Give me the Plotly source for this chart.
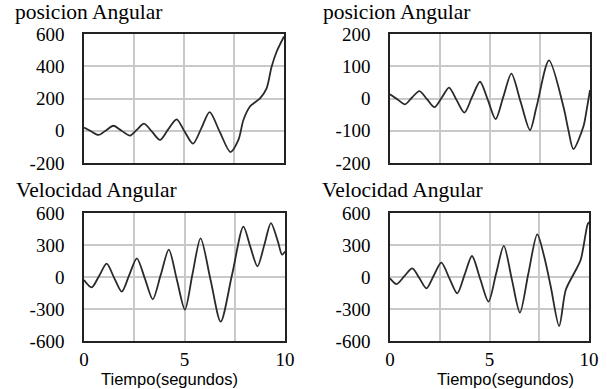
import plotly.graph_objects as go

W, H = 607, 389

# ---- data ----
t_pos1 = [0, 0.35, 0.72, 1.1, 1.47, 1.88, 2.3, 2.65, 3.0, 3.4, 3.8, 4.2, 4.63, 5.03, 5.45,
          5.87, 6.28, 6.8, 7.32, 7.72, 7.97, 8.3, 8.8, 9.13, 9.38, 9.63, 10]
pos1 = [20, -3, -26, 2, 31, 0, -30, 7, 44, -6, -57, 7, 71, -5, -80,
        16, 115, -10, -132, -57, 67, 150, 201, 263, 397, 490, 585]

t_pos2 = [0, 0.38, 0.75, 1.1, 1.47, 1.85, 2.22, 2.6, 2.95, 3.33, 3.72, 4.1, 4.5, 4.9, 5.28,
          5.67, 6.07, 6.53, 7.0, 7.33, 7.95, 8.67, 8.92, 9.17, 9.67, 9.83, 10]
pos2 = [13, -3, -18, 3, 23, -2, -27, 4, 34, -5, -44, 4, 52, -6, -64,
        6, 77, -10, -98, -25, 118, -25, -98, -157, -87, -36, 26]

t_vel1 = [0, 0.38, 0.75, 1.13, 1.5, 1.88, 2.25, 2.63, 3.03, 3.42, 3.82, 4.22, 4.62, 5.02,
          5.4, 5.8, 6.3, 6.8, 7.37, 7.93, 8.28, 8.63, 8.97, 9.3, 9.65, 9.85, 10]
vel1 = [-28, -97, 10, 125, -8, -138, 18, 175, -15, -209, 22, 256, -25, -306,
        30, 363, -30, -419, 25, 472, 280, 100, 300, 505, 330, 210, 240]

t_vel2 = [0, 0.33, 0.72, 1.12, 1.48, 1.83, 2.2, 2.58, 2.98, 3.38, 3.75, 4.12, 4.53, 4.95,
          5.33, 5.72, 6.12, 6.53, 6.95, 7.4, 7.75, 8.08, 8.5, 8.83, 9.25, 9.58, 9.92, 10]
vel2 = [-12, -66, 8, 81, -12, -106, 14, 134, -10, -153, 22, 197, -17, -231,
        30, 291, -20, -334, 30, 400, 190, -91, -460, -122, 35, 159, 487, 515]

yt_pos1 = [-200, 0, 200, 400, 600]
yt_pos2 = [-200, -100, 0, 100, 200]
yt_vel = [-600, -300, 0, 300, 600]
xt_vals = [0, 2.5, 5, 7.5, 10]
xt_text = ["0", "", "5", "", "10"]

titles = ["posicion Angular", "posicion Angular", "Velocidad Angular", "Velocidad Angular"]
xlabel = "Tiempo(segundos)"

# ---- figure ----
LINE = dict(color="#2a2a2a", width=1.8)
SERIF = "Liberation Serif, Times New Roman, serif"
SANS = "Liberation Sans, Arial, sans-serif"

fig = go.Figure()
series = [(t_pos1, pos1), (t_pos2, pos2), (t_vel1, vel1), (t_vel2, vel2)]
for i, (tx, ty) in enumerate(series):
    sfx = "" if i == 0 else str(i + 1)
    fig.add_trace(go.Scatter(x=tx, y=ty, mode="lines", line=dict(LINE, shape="spline", smoothing=0.8),
                             xaxis="x" + sfx, yaxis="y" + sfx, showlegend=False, hoverinfo="skip"))

def px_x(a, b):
    return [a / W, b / W]

def px_y(top, bottom):
    return [1 - bottom / H, 1 - top / H]

doms = [
    (px_x(84, 284), px_y(34, 163)),
    (px_x(390, 590), px_y(34, 163)),
    (px_x(84, 285), px_y(213, 341)),
    (px_x(390, 589), px_y(213, 341)),
]
yticks = [yt_pos1, yt_pos2, yt_vel, yt_vel]

common = dict(showline=True, mirror=True, linecolor="#222222", linewidth=1.6,
              showgrid=True, gridcolor="#c9c9c9", gridwidth=1.5, zeroline=False,
              ticks="", fixedrange=True, automargin=False)

layout = dict(width=W, height=H, margin=dict(l=0, r=0, t=0, b=0, autoexpand=False),
              paper_bgcolor="white", plot_bgcolor="white", showlegend=False,
              font=dict(family=SERIF, color="black"))

for i in range(4):
    sfx = "" if i == 0 else str(i + 1)
    xd, yd = doms[i]
    yv = yticks[i]
    layout["xaxis" + sfx] = dict(common, domain=xd, range=[0, 10], anchor="y" + sfx,
                                 tickvals=xt_vals, ticktext=xt_text,
                                 showticklabels=(i >= 2), ticklabelstandoff=0,
                                 tickfont=dict(family=SERIF, size=19, color="black"))
    layout["yaxis" + sfx] = dict(common, domain=yd, range=[yv[0], yv[-1]], anchor="x" + sfx,
                                 tickvals=yv, ticktext=[str(v) for v in yv],
                                 ticklabelstandoff=14,
                                 tickfont=dict(family=SERIF, size=19, color="black"))

fig.update_layout(**layout)

title_pos = [(13, 12), (321, 12), (14, 190), (320, 190)]
for (x, y), txt in zip(title_pos, titles):
    fig.add_annotation(x=x / W, y=1 - y / H, xref="paper", yref="paper", text=txt,
                       showarrow=False, xanchor="left", yanchor="middle",
                       font=dict(family=SERIF, size=21.5, color="black"))

for x in (169, 505):
    fig.add_annotation(x=x / W, y=1 - 378.5 / H, xref="paper", yref="paper", text=xlabel,
                       showarrow=False, xanchor="center", yanchor="middle",
                       font=dict(family=SANS, size=16.5, color="black"))

fig.write_html("out.html", config={"displayModeBar": False},
               post_script="document.body.style.margin='0';document.body.style.padding='0';"
                           "document.body.style.overflow='hidden';")
